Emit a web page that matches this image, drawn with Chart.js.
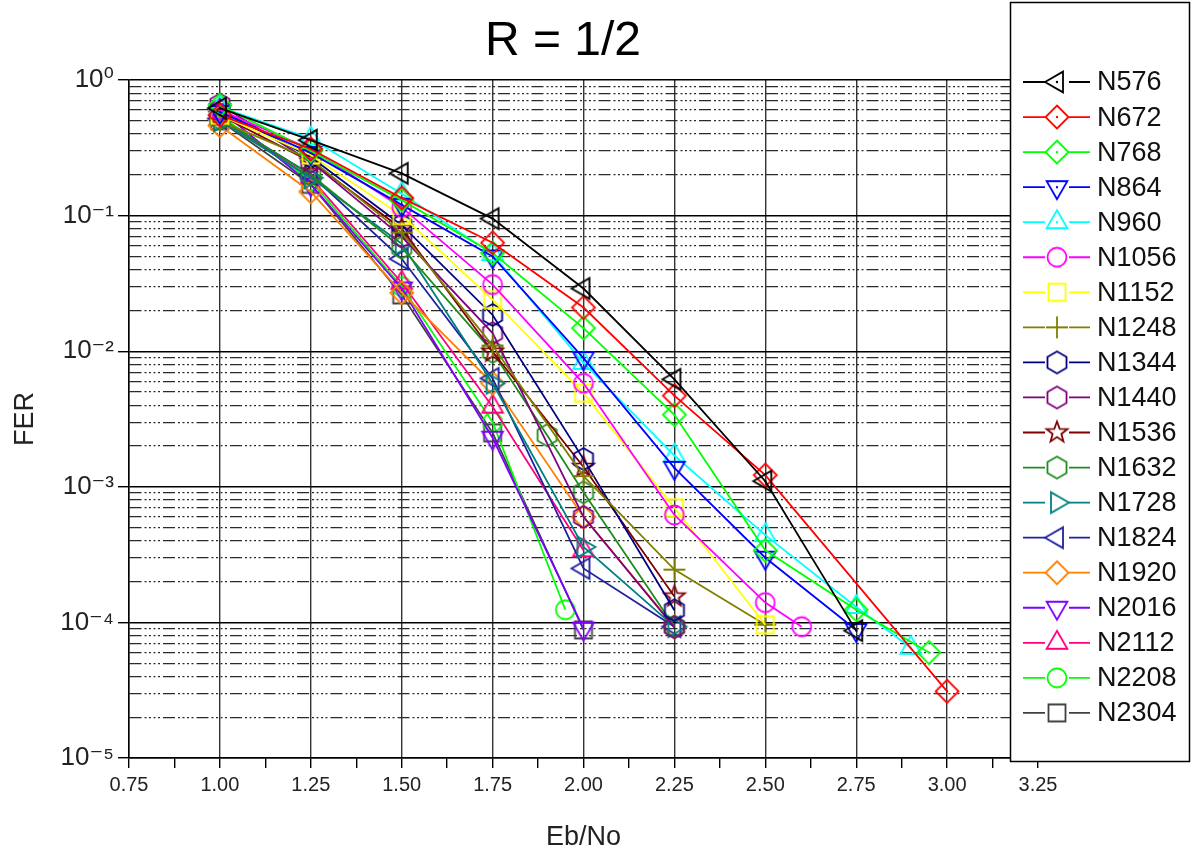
<!DOCTYPE html>
<html>
<head>
<meta charset="utf-8">
<script src="https://cdn.jsdelivr.net/npm/chart.js@4.4.0/dist/chart.umd.min.js"></script>
<style>
  html, body { margin: 0; padding: 0; background: #fff; }
  #wrap { width: 1193px; height: 858px; }
</style>
</head>
<body>
<div id="wrap"><canvas id="chart" width="1193" height="858"></canvas></div>
<script>
// FER vs Eb/No, one x/y pair per block length
const names = ['N576', 'N672', 'N768', 'N864', 'N960', 'N1056', 'N1152', 'N1248', 'N1344', 'N1440',
               'N1536', 'N1632', 'N1728', 'N1824', 'N1920', 'N2016', 'N2112', 'N2208', 'N2304'];

const ebno576 = [1.0, 1.25, 1.5, 1.75, 2.0, 2.25, 2.5, 2.75];
const fer576 = [0.62, 0.36, 0.205, 0.095, 0.029, 0.0062, 0.0011, 8.7e-5];
const ebno672 = [1.0, 1.25, 1.5, 1.75, 2.0, 2.25, 2.5, 3.0];
const fer672 = [0.55, 0.31, 0.135, 0.063, 0.021, 0.0047, 0.00122, 3.1e-5];
const ebno768 = [1.0, 1.25, 1.5, 1.75, 2.0, 2.25, 2.5, 2.75, 2.95];
const fer768 = [0.65, 0.30, 0.13, 0.053, 0.0148, 0.0034, 0.00034, 0.000124, 6.0e-5];
const ebno864 = [1.0, 1.25, 1.5, 1.75, 2.0, 2.25, 2.5, 2.75];
const fer864 = [0.58, 0.29, 0.12, 0.05, 0.0089, 0.00138, 0.0003, 8.8e-5];
const ebno960 = [1.0, 1.25, 1.5, 1.75, 2.0, 2.25, 2.5, 2.75, 2.9];
const fer960 = [0.63, 0.37, 0.145, 0.052, 0.0082, 0.0017, 0.00044, 0.00013, 6.5e-5];
const ebno1056 = [1.0, 1.25, 1.5, 1.75, 2.0, 2.25, 2.5, 2.6];
const fer1056 = [0.60, 0.31, 0.115, 0.031, 0.0058, 0.00062, 0.00014, 9.3e-5];
const ebno1152 = [1.0, 1.25, 1.5, 1.75, 2.0, 2.25, 2.5];
const fer1152 = [0.55, 0.28, 0.10, 0.024, 0.0049, 0.0007, 9.6e-5];
const ebno1248 = [1.0, 1.25, 1.5, 1.75, 2.0, 2.25, 2.5];
const fer1248 = [0.50, 0.26, 0.075, 0.011, 0.0012, 0.000245, 9.6e-5];
const ebno1344 = [1.0, 1.25, 1.5, 1.75, 2.0, 2.25];
const fer1344 = [0.60, 0.27, 0.085, 0.0185, 0.0016, 0.000123];
const ebno1440 = [1.0, 1.25, 1.5, 1.75, 2.0, 2.25];
const fer1440 = [0.66, 0.25, 0.07, 0.0136, 0.0006, 9.2e-5];
const ebno1536 = [1.0, 1.25, 1.5, 1.75, 2.0, 2.25];
const fer1536 = [0.55, 0.25, 0.08, 0.0099, 0.0014, 0.000155];
const ebno1632 = [1.0, 1.25, 1.5, 1.75, 1.9, 2.0, 2.25];
const fer1632 = [0.52, 0.20, 0.058, 0.0099, 0.0024, 0.00091, 9.3e-5];
const ebno1728 = [1.0, 1.25, 1.5, 1.75, 2.0, 2.25];
const fer1728 = [0.50, 0.19, 0.062, 0.0058, 0.00036, 9.3e-5];
const ebno1824 = [1.0, 1.25, 1.5, 1.75, 2.0, 2.25];
const fer1824 = [0.52, 0.20, 0.048, 0.0063, 0.00025, 9.3e-5];
const ebno1920 = [1.0, 1.25, 1.5, 1.75, 2.0, 2.25];
const fer1920 = [0.46, 0.15, 0.027, 0.0058, 0.0006, 9.3e-5];
const ebno2016 = [1.0, 1.25, 1.5, 1.75, 2.0];
const fer2016 = [0.60, 0.17, 0.029, 0.0023, 9.0e-5];
const ebno2112 = [1.0, 1.25, 1.5, 1.75, 2.0];
const fer2112 = [0.52, 0.19, 0.032, 0.0039, 0.00034];
const ebno2208 = [1.0, 1.25, 1.5, 1.75, 1.95];
const fer2208 = [0.55, 0.18, 0.030, 0.0030, 0.000124];
const ebno2304 = [1.0, 1.25, 1.5, 1.75, 2.0];
const fer2304 = [0.50, 0.17, 0.026, 0.0025, 8.8e-5];

const xs = [ebno576, ebno672, ebno768, ebno864, ebno960, ebno1056, ebno1152, ebno1248, ebno1344, ebno1440,
            ebno1536, ebno1632, ebno1728, ebno1824, ebno1920, ebno2016, ebno2112, ebno2208, ebno2304];
const ys = [fer576, fer672, fer768, fer864, fer960, fer1056, fer1152, fer1248, fer1344, fer1440,
            fer1536, fer1632, fer1728, fer1824, fer1920, fer2016, fer2112, fer2208, fer2304];

// styles
const colors = ['#000000', '#ff0000', '#00ff00', '#0000ff', '#00ffff', '#ff00ff', '#ffff00', '#808000', '#000080', '#800080',
                '#800000', '#1e8c1e', '#008080', '#2020a0', '#ff8000', '#8000ff', '#ff0080', '#00ff00', '#404040'];
const shapes = ['triL', 'diamond', 'diamond', 'triD', 'triU', 'circle', 'square', 'plus', 'hex', 'hex',
                'star', 'hex', 'triR', 'triL', 'diamond', 'triD', 'triU', 'circle', 'square'];
const dotted = [true, true, true, true, true];

function marker(shape, color, dot) {
  const c = document.createElement('canvas');
  c.width = 30; c.height = 30;
  const g = c.getContext('2d');
  g.translate(15, 15);
  g.strokeStyle = color; g.fillStyle = color; g.lineWidth = 1.8;
  g.beginPath();
  const poly = pts => { pts.forEach(([x, y], i) => i ? g.lineTo(x, y) : g.moveTo(x, y)); g.closePath(); };
  const ngon = (n, r, rot) => {
    const p = [];
    for (let k = 0; k < n; k++) { const a = rot + k * 2 * Math.PI / n; p.push([r * Math.cos(a), r * Math.sin(a)]); }
    poly(p);
  };
  switch (shape) {
    case 'triU': ngon(3, 12, -Math.PI / 2); break;
    case 'triD': ngon(3, 12, Math.PI / 2); break;
    case 'triL': ngon(3, 12, Math.PI); break;
    case 'triR': ngon(3, 12, 0); break;
    case 'diamond': ngon(4, 11.5, -Math.PI / 2); break;
    case 'square': g.rect(-8.5, -8.5, 17, 17); break;
    case 'circle': g.arc(0, 0, 9.5, 0, 2 * Math.PI); break;
    case 'hex': ngon(6, 11, -Math.PI / 2); break;
    case 'plus': g.moveTo(-11, 0); g.lineTo(11, 0); g.moveTo(0, -11); g.lineTo(0, 11); break;
    case 'star': {
      const p = [];
      for (let k = 0; k < 10; k++) {
        const r = k % 2 ? 4.6 : 11, a = -Math.PI / 2 + k * Math.PI / 5;
        p.push([r * Math.cos(a), r * Math.sin(a)]);
      }
      poly(p);
      break;
    }
  }
  g.stroke();
  if (dot) { g.beginPath(); g.arc(0, 0, 1.2, 0, 2 * Math.PI); g.fill(); }
  return c;
}

const markers = names.map((n, i) => marker(shapes[i], colors[i], !!dotted[i]));

const SUP = { '-': '\u207B', '0': '\u2070', '1': '\u00B9', '2': '\u00B2', '3': '\u00B3', '4': '\u2074', '5': '\u2075',
              '6': '\u2076', '7': '\u2077', '8': '\u2078', '9': '\u2079' };
const isPow10 = v => Math.abs(Math.log10(v) - Math.round(Math.log10(v))) < 1e-6;
const isQuarter = v => Math.abs(v * 4 - Math.round(v * 4)) < 1e-9;

const FONT = "'Liberation Sans', Arial, 'DejaVu Sans', sans-serif";
Chart.defaults.font.family = FONT;
Chart.defaults.color = '#000';

// title drawn over the plot column (not centred on the canvas)
const titlePlugin = {
  id: 'plotTitle',
  afterDraw(chart) {
    const ctx = chart.ctx;
    ctx.save();
    ctx.font = '48px ' + FONT;
    ctx.fillStyle = '#000';
    ctx.textAlign = 'center';
    ctx.textBaseline = 'middle';
    ctx.fillText('R = 1/2', 563, 42);
    ctx.restore();
  }
};

// boxed legend sitting on the right, on top of the plot
const legendPlugin = {
  id: 'boxLegend',
  afterDraw(chart) {
    const ctx = chart.ctx;
    ctx.save();
    ctx.fillStyle = '#fff';
    ctx.fillRect(1010, 2, 180, 760);
    ctx.strokeStyle = '#000';
    ctx.lineWidth = 1.5;
    ctx.strokeRect(1010.5, 2.5, 179, 759);
    ctx.font = '27px ' + FONT;
    ctx.textBaseline = 'middle';
    chart.data.datasets.forEach((ds, i) => {
      const y = 82 + i * 35.05;
      ctx.strokeStyle = ds.borderColor;
      ctx.lineWidth = 1.8;
      ctx.beginPath();
      ctx.moveTo(1023, y); ctx.lineTo(1045, y);
      ctx.moveTo(1069, y); ctx.lineTo(1090, y);
      ctx.stroke();
      const m = ds.pointStyle;
      ctx.drawImage(m, 1057 - m.width / 2, y - m.height / 2);
      ctx.fillStyle = '#111';
      ctx.fillText(ds.label, 1097, y + 1);
    });
    ctx.restore();
  }
};

new Chart(document.getElementById('chart'), {
  type: 'line',
  data: {
    datasets: names.map((name, i) => ({
      label: name,
      data: xs[i].map((x, j) => ({ x, y: ys[i][j] })),
      borderColor: colors[i],
      backgroundColor: colors[i],
      borderWidth: 1.8,
      pointStyle: markers[i],
      pointRadius: 10,
      pointHoverRadius: 10,
      tension: 0,
      fill: false
    }))
  },
  options: {
    responsive: false,
    animation: false,
    layout: { padding: { top: 80, right: 155, bottom: 0, left: 0 } },
    plugins: { legend: { display: false }, title: { display: false }, tooltip: { enabled: false } },
    scales: {
      x: {
        type: 'linear',
        min: 0.75,
        max: 3.25,
        afterFit: s => { s.height = 100; },
        ticks: {
          stepSize: 0.125,
          includeBounds: false,
          autoSkip: false,
          maxRotation: 0,
          padding: 5,
          font: { size: 20 },
          color: '#222',
          callback: v => isQuarter(v) ? v.toFixed(2) : ''
        },
        grid: {
          color: c => (c.tick && isQuarter(c.tick.value)) ? '#333' : 'rgba(0,0,0,0)',
          lineWidth: 1.4,
          tickColor: '#000',
          tickLength: 10
        },
        border: { color: '#000', width: 1.5 },
        title: { display: true, text: 'Eb/No', font: { size: 27 }, color: '#222', padding: { top: 0, bottom: 4 } }
      },
      y: {
        type: 'logarithmic',
        min: 1e-5,
        max: 1,
        afterFit: s => { s.width = 129; },
        afterBuildTicks: s => {
          s.ticks = s.ticks.filter(t => {
            const m = t.value / Math.pow(10, Math.floor(Math.log10(t.value) + 1e-9));
            return Math.abs(m - Math.round(m)) < 1e-6;
          });
        },
        ticks: {
          autoSkip: false,
          padding: 4,
          font: { size: 26 },
          color: '#222',
          callback: v => isPow10(v) ? '10' + String(Math.round(Math.log10(v))).split('').map(ch => SUP[ch]).join('') : ''
        },
        grid: {
          color: c => (c.tick && isPow10(c.tick.value)) ? '#000' : '#2a2a2a',
          lineWidth: c => (c.tick && isPow10(c.tick.value)) ? 1.4 : 1.2,
          tickColor: c => (c.tick && isPow10(c.tick.value)) ? '#000' : 'rgba(0,0,0,0)',
          tickLength: 11
        },
        border: {
          color: '#000',
          width: 1.5,
          dash: c => (c.tick && !isPow10(c.tick.value)) ? [12, 3, 2, 2.5, 2, 2.5, 2, 2.5, 2, 3] : []
        },
        title: { display: true, text: 'FER', font: { size: 27 }, color: '#222', padding: { top: 9, bottom: 0 } }
      }
    }
  },
  plugins: [titlePlugin, legendPlugin]
});
</script>
</body>
</html>
